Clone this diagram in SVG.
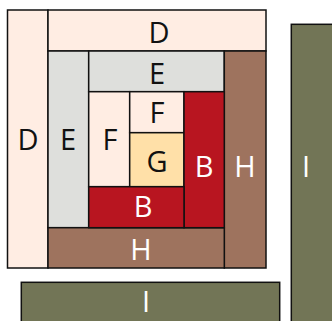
<svg xmlns="http://www.w3.org/2000/svg" width="332" height="321" viewBox="0 0 332 321">
<style>
rect{stroke:#111;stroke-width:1.5}
text{font-family:"Open Sans","DejaVu Sans",sans-serif;font-size:29px;text-anchor:middle}
.dk{fill:#111}.lt{fill:#fff}
.D{fill:#FFEDE3}.E{fill:#DEDFDC}.F{fill:#FFEDE3}.G{fill:#FFE0A8}.B{fill:#B81520}.H{fill:#9E735E}.I{fill:#727556}
</style>
<rect x="0" y="0" width="332" height="321" fill="#fff" style="stroke:none"/>
<g id="D-left"><rect class="D" x="7.5" y="10" width="40.5" height="258"/><text class="dk" x="28" y="150">D</text></g>
<g id="D-top"><rect class="D" x="48" y="10" width="218" height="41"/><text class="dk" x="159" y="43">D</text></g>
<g id="E-left"><rect class="E" x="48" y="51" width="40.7" height="176.7"/><text class="dk" x="68" y="150">E</text></g>
<g id="E-top"><rect class="E" x="88.7" y="51" width="135.6" height="40.7"/><text class="dk" x="157" y="84">E</text></g>
<g id="H-right"><rect class="H" x="224.3" y="51" width="41.7" height="217"/><text class="lt" x="245" y="177">H</text></g>
<g id="H-bottom"><rect class="H" x="48" y="227.7" width="176.3" height="40.3"/><text class="lt" x="141" y="260">H</text></g>
<g id="F-left"><rect class="F" x="88.7" y="91.7" width="41" height="95"/><text class="dk" x="110" y="150">F</text></g>
<g id="F-top"><rect class="F" x="129.7" y="91.7" width="54.3" height="41"/><text class="dk" x="157" y="123">F</text></g>
<g id="G"><rect class="G" x="129.7" y="132.7" width="54.3" height="54"/><text class="dk" x="157" y="172">G</text></g>
<g id="B-right"><rect class="B" x="184" y="91.7" width="40.3" height="136"/><text class="lt" x="204" y="177">B</text></g>
<g id="B-bottom"><rect class="B" x="88.7" y="186.7" width="95.3" height="41"/><text class="lt" x="143" y="217">B</text></g>
<g id="I-bottom"><rect class="I" x="21.3" y="282.3" width="258.4" height="50"/><text class="lt" x="146" y="312">I</text></g>
<g id="I-right"><rect class="I" x="291.3" y="24.3" width="50" height="310"/><text class="lt" x="306" y="177">I</text></g>
<g id="connectors"/>
</svg>
